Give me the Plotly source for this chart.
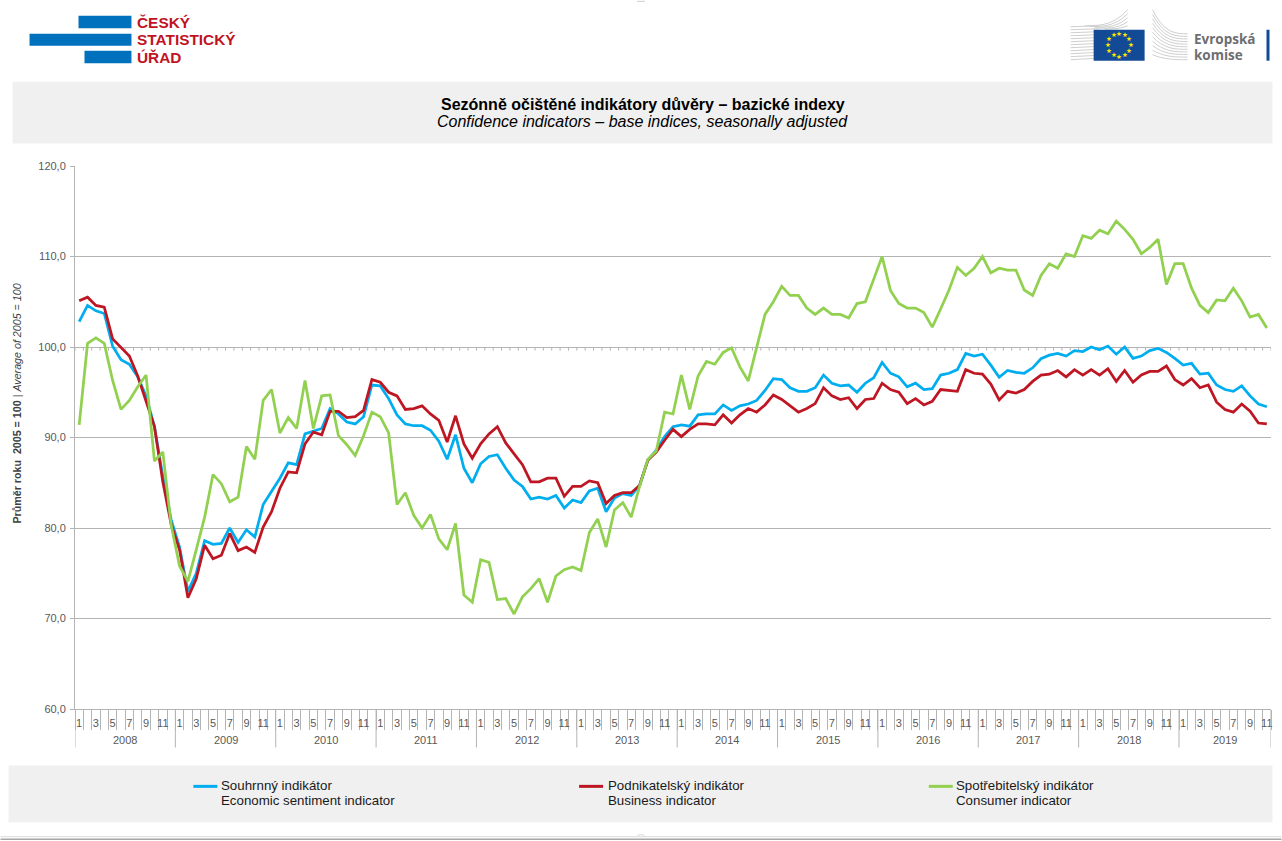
import numpy as np
import plotly.graph_objects as go

W, H = 1282, 841
LEFT, RIGHT, TOP, BOTTOM = 74.5, 1271.5, 165.5, 709.5

years = list(range(2008, 2020))
month_labels = [str(m) if m % 2 == 1 else "" for m in range(1, 13)]
y_ticks = [60, 70, 80, 90, 100, 110, 120]

econ = [102.8, 104.6, 104.0, 103.7, 100.1, 98.6, 98.1, 96.7, 94.6, 91.2, 85.7, 80.9,
        77.9, 73.0, 75.0, 78.6, 78.2, 78.3, 80.0, 78.4, 79.8, 79.0, 82.6, 84.1,
        85.5, 87.2, 87.0, 90.4, 90.7, 91.0, 93.2, 92.6, 91.7, 91.5, 92.3, 95.8,
        95.7, 94.3, 92.5, 91.5, 91.3, 91.3, 90.8, 89.6, 87.6, 90.3, 86.6, 85.0,
        87.1, 87.9, 88.1, 86.6, 85.3, 84.6, 83.2, 83.4, 83.2, 83.6, 82.2, 83.1,
        82.8, 84.1, 84.4, 81.8, 83.3, 83.8, 83.6, 84.7, 87.5, 88.6, 90.1, 91.2,
        91.4, 91.25, 92.5, 92.6, 92.6, 93.6, 93.0, 93.5, 93.7, 94.1, 95.2, 96.5,
        96.4, 95.5, 95.1, 95.1, 95.5, 96.9, 96.0, 95.7, 95.8, 95.0, 96.0, 96.6,
        98.3, 97.1, 96.7, 95.6, 96.0, 95.3, 95.4, 96.9, 97.1, 97.5, 99.3, 99.0,
        99.2, 98.0, 96.65, 97.4, 97.2, 97.1, 97.7, 98.7, 99.1, 99.3, 99.0, 99.6,
        99.5, 100.0, 99.7, 100.1, 99.2, 100.0, 98.75, 99.0, 99.6, 99.85, 99.4, 98.75,
        98.0, 98.2, 97.0, 97.1, 95.8, 95.3, 95.1, 95.7, 94.6, 93.7, 93.4]

business = [105.1, 105.5, 104.6, 104.4, 100.9, 100.0, 99.0, 96.8, 94.1, 91.2, 85.1, 80.4,
            77.6, 72.3, 74.4, 78.1, 76.6, 77.0, 79.4, 77.5, 77.9, 77.3, 80.1, 81.8,
            84.4, 86.2, 86.1, 89.3, 90.6, 90.3, 92.9, 92.9, 92.2, 92.3, 93.0, 96.4,
            96.1, 95.0, 94.6, 93.1, 93.2, 93.5, 92.6, 91.9, 89.5, 92.4, 89.3, 87.7,
            89.3, 90.4, 91.2, 89.4, 88.2, 87.0, 85.1, 85.1, 85.5, 85.5, 83.5, 84.6,
            84.6, 85.2, 85.0, 82.7, 83.6, 83.9, 83.9, 84.7, 87.5, 88.4, 89.7, 90.9,
            90.1, 90.9, 91.5, 91.5, 91.4, 92.5, 91.6, 92.5, 93.2, 92.8, 93.6, 94.7,
            94.2, 93.5, 92.8, 93.2, 93.75, 95.5, 94.6, 94.2, 94.4, 93.2, 94.2, 94.3,
            96.0, 95.3, 95.0, 93.75, 94.3, 93.6, 94.0, 95.3, 95.2, 95.1, 97.5, 97.1,
            97.0, 95.9, 94.15, 95.1, 94.9, 95.3, 96.2, 96.9, 97.0, 97.4, 96.7, 97.5,
            96.9, 97.5, 96.9, 97.6, 96.2, 97.4, 96.1, 96.9, 97.3, 97.3, 97.9, 96.4,
            95.8, 96.5, 95.5, 95.8, 93.9, 93.1, 92.8, 93.7, 92.9, 91.6, 91.5]

consumer = [91.4, 100.4, 101.0, 100.4, 96.3, 93.1, 94.1, 95.6, 96.9, 87.4, 88.4, 80.3,
            75.8, 74.1, 77.6, 81.2, 85.9, 84.9, 82.9, 83.4, 89.0, 87.6, 94.1, 95.3,
            90.5, 92.2, 91.0, 96.3, 91.0, 94.6, 94.7, 90.2, 89.2, 88.0, 90.2, 92.8,
            92.3, 90.5, 82.6, 83.9, 81.4, 80.0, 81.5, 78.8, 77.6, 80.5, 72.6, 71.8,
            76.5, 76.2, 72.1, 72.2, 70.5, 72.4, 73.3, 74.4, 71.8, 74.7, 75.4, 75.7,
            75.3, 79.5, 81.0, 77.9, 82.0, 82.8, 81.2, 84.6, 87.6, 88.5, 92.8, 92.6,
            96.9, 93.1, 96.8, 98.4, 98.1, 99.4, 99.9, 97.8, 96.25, 100.0, 103.6, 105.0,
            106.7, 105.7, 105.7, 104.3, 103.6, 104.3, 103.6, 103.6, 103.2, 104.8, 105.0, 107.5,
            110.0, 106.25, 104.8, 104.3, 104.3, 103.8, 102.2, 104.2, 106.3, 108.8, 107.9, 108.7,
            110.0, 108.2, 108.7, 108.5, 108.5, 106.3, 105.7, 107.9, 109.2, 108.7, 110.3, 110.0,
            112.3, 112.0, 112.9, 112.5, 113.9, 113.0, 111.9, 110.3, 111.0, 111.9, 106.9, 109.2,
            109.2, 106.5, 104.6, 103.8, 105.2, 105.1, 106.5, 105.1, 103.3, 103.6, 102.1]

BLUE, RED, GREEN = "#00aeef", "#be1622", "#92d050"
GRID, LABEL, PANEL = "#b4b4b4", "#595959", "#f0f0f0"


# page pixels to paper coordinates
def px(x):
    return (x - LEFT) / (RIGHT - LEFT)


def py(y):
    return (BOTTOM - y) / (BOTTOM - TOP)


def path_paper(points):
    return "M" + " L".join(f"{px(a):.5f},{py(b):.5f}" for a, b in points)


def rect(x0, y0, x1, y1, color, layer="below"):
    fig.add_shape(type="rect", xref="paper", yref="paper", x0=px(x0), x1=px(x1), y0=py(y0), y1=py(y1),
                  fillcolor=color, line_width=0, layer=layer)


def hline(x0, x1, y, color, width=1):
    fig.add_shape(type="line", xref="paper", yref="paper", x0=px(x0), x1=px(x1), y0=py(y), y1=py(y),
                  line=dict(color=color, width=width))


def label(x, y, text, size=12, color="black", family="Liberation Sans", anchor="left"):
    fig.add_annotation(xref="paper", yref="paper", x=px(x), y=py(y), text=text, showarrow=False,
                       xanchor=anchor, yanchor="middle", align=anchor, borderpad=0,
                       font=dict(family=family, size=size, color=color))


fig = go.Figure()

x = np.arange(len(econ))
for name, values, color in [("Souhrnný indikátor", econ, BLUE),
                            ("Podnikatelský indikátor", business, RED),
                            ("Spotřebitelský indikátor", consumer, GREEN)]:
    fig.add_trace(go.Scatter(x=x, y=values, mode="lines", name=name, line=dict(color=color, width=2.75)))

month_text = [month_labels[i % 12] for i in x]

fig.update_layout(
    width=W, height=H,
    margin=dict(l=LEFT, r=W - RIGHT, t=TOP, b=H - BOTTOM),
    paper_bgcolor="white", plot_bgcolor="white",
    showlegend=False,
    separators=", ",
    font=dict(family="Liberation Sans", size=11, color=LABEL),
    xaxis=dict(range=[-0.5, len(econ) - 0.5], tickmode="array", tickvals=x[::2], ticktext=month_text[::2],
               tickangle=0, ticks="outside", ticklen=4, tickcolor="rgba(0,0,0,0)", showgrid=False,
               showline=True, linecolor=GRID, zeroline=False, tickfont=dict(size=11, color=LABEL),
               minor=dict(ticks="outside", ticklen=20, tickcolor=GRID, tickmode="array",
                          tickvals=np.arange(len(econ) + 1) - 0.5)),
    yaxis=dict(range=[60, 120], tickvals=y_ticks, tickformat=".1f", ticks="outside", ticklen=4,
               ticklabelstandoff=2, tickcolor=GRID, gridcolor=GRID, gridwidth=1, showline=True,
               linecolor=GRID, zeroline=False, tickfont=dict(size=11, color=LABEL)),
)

# axis crosses at 100: small month ticks hanging from that gridline
for i in range(len(econ) + 1):
    fig.add_shape(type="line", xref="x", yref="y", x0=i - 0.5, x1=i - 0.5, y0=100, y1=99.6,
                  line=dict(color=GRID, width=1), layer="below")

# year groups under the month labels
for k, year in enumerate(years):
    start = k * 12 - 0.5
    end = min(start + 12, len(econ) - 0.5)
    fig.add_shape(type="line", xref="x", yref="paper", x0=start, x1=start, y0=py(BOTTOM), y1=py(748),
                  line=dict(color=GRID, width=1))
    fig.add_annotation(xref="x", yref="paper", x=(start + end) / 2, y=py(741), text=str(year), showarrow=False,
                       yanchor="middle", font=dict(size=11, color=LABEL))
fig.add_shape(type="line", xref="x", yref="paper", x0=len(econ) - 0.5, x1=len(econ) - 0.5, y0=py(BOTTOM), y1=py(748),
              line=dict(color=GRID, width=1))

fig.add_annotation(xref="paper", yref="paper", x=px(17), y=py(404), textangle=-90, showarrow=False,
                   xanchor="center", yanchor="middle",
                   text="<b>Průměr roku  2005 = 100</b> | <i>Average of 2005 = 100</i>",
                   font=dict(size=10.7, color="#404040"))

# title panel
rect(12, 81, 1273, 143, PANEL)
label(642.5, 104, "<b>Sezónně očištěné indikátory důvěry – bazické indexy</b>", size=16, anchor="center")
label(642.5, 121, "<i>Confidence indicators – base indices, seasonally adjusted</i>", size=16, anchor="center")

# legend panel
rect(8, 766, 1273, 823, PANEL)
legend_items = [(193, 220, BLUE, "Souhrnný indikátor", "Economic sentiment indicator"),
                (579, 606.5, RED, "Podnikatelský indikátor", "Business indicator"),
                (929, 955, GREEN, "Spotřebitelský indikátor", "Consumer indicator")]
for x0, x_text, color, cz, en in legend_items:
    hline(x0, x0 + 24, 787, color, 3)
    label(x_text, 786.5, cz, size=13.3, color="#1a1a1a")
    label(x_text, 801, en, size=13.3, color="#1a1a1a")

# rules and tabs at the page edges
hline(0, W, 837.5, "#d9d9d9")
hline(0, W, 840, "#a6a6a6", 1.5)
hline(637, 645, 0.5, "#cfcfcf")
fig.add_shape(type="path", xref="paper", yref="paper",
              path=path_paper([(637, 837.5), (638.5, 835.5), (643.5, 835.5), (645, 837.5)]),
              line=dict(color="#d9d9d9", width=1))

# CZSO logo
LOGO_BLUE = "#0071bc"
rect(78, 15, 131, 27.5, LOGO_BLUE)
rect(29, 33, 131, 45, LOGO_BLUE)
rect(84, 50, 131, 62.5, LOGO_BLUE)
for y, word in [(21.5, "ČESKÝ"), (39, "STATISTICKÝ"), (57, "ÚŘAD")]:
    label(136, y, f"<b>{word}</b>", size=15.4, color="#c1131f")

# European Commission logo
STRIPE = "#cfcfcf"
for k in range(12):
    fig.add_shape(type="path", xref="paper", yref="paper",
                  path=path_paper([(1071, 26 + k * 3), (1100, 25 + k * 2.95)]),
                  line=dict(color=STRIPE, width=1))
for k in range(5):
    t = np.linspace(0, 1, 8)
    ax, ay = 1085 + k * 5, 25 - k * 0.2 + k * 1.0
    bx, by = 1128, 9 + k * 4
    fig.add_shape(type="path", xref="paper", yref="paper",
                  path=path_paper(list(zip(ax + (bx - ax) * t, ay + (by - ay) * t ** 3))),
                  line=dict(color=STRIPE, width=1))
for k in range(11):
    t = np.linspace(0, 1, 10)
    y_start = 9 + k * 4.5
    y_end = 33 + k * 2.6
    fig.add_shape(type="path", xref="paper", yref="paper",
                  path=path_paper(list(zip(1153 + 35 * t, y_end + (y_start - y_end) * (1 - t) ** 3))),
                  line=dict(color=STRIPE, width=1))
rect(1094, 29, 1145, 60, "#134a95", layer="above")
rect(1267, 29, 1270, 60, "#134a95", layer="above")
for k in range(12):
    a = 2 * np.pi * k / 12
    label(1119.7 + 11.5 * np.sin(a), 44.3 - 11.5 * np.cos(a), "★", size=6.5, color="#ffe600",
          family="DejaVu Sans", anchor="center")
label(1193.5, 38, "<b>Evropská</b>", size=13.5, color="#6d6e71", family="Open Sans")
label(1193.5, 54.5, "<b>komise</b>", size=13.5, color="#6d6e71", family="Open Sans")

fig.write_html("out.html", config=dict(displayModeBar=False),
               post_script="document.body.style.margin='0';document.body.style.overflow='hidden';")
